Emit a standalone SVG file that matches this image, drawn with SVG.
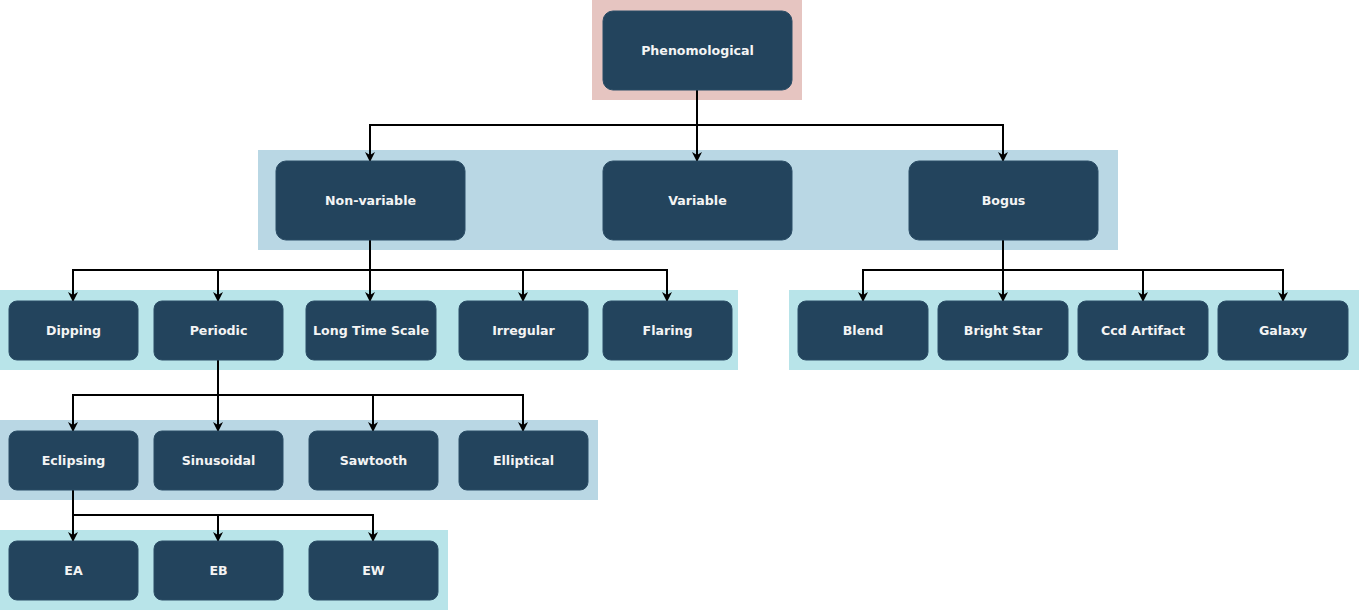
<svg xmlns="http://www.w3.org/2000/svg" width="1359" height="611" viewBox="0 0 1359 611">
  <style>
    .band-root { fill: #e6c5c1; }
    .band-a { fill: #b9d7e4; }
    .band-b { fill: #b8e4e9; }
    .node rect { fill: #23445d; stroke: #2b4d66; stroke-width: 1; }
    .node text { fill: #f4f4f4; font-family: "DejaVu Sans", Verdana, sans-serif; font-weight: bold; font-size: 12.6px; text-anchor: middle; dominant-baseline: central; }
    .edge { fill: none; stroke: #000; stroke-width: 2; marker-end: url(#arrow); }
  </style>
  <defs>
    <marker id="arrow" viewBox="0 0 10 10" refX="9" refY="5" markerWidth="11" markerHeight="10" markerUnits="userSpaceOnUse" orient="auto">
      <path d="M0,0 L10,5 L0,10 L3,5 Z" fill="#000"/>
    </marker>
  </defs>
  <rect width="1359" height="611" fill="#fff"/>

  <!-- level bands -->
  <g id="bands">
    <rect class="band-root" x="592" y="0" width="210" height="100"/>
    <rect class="band-a" x="258" y="150" width="860" height="100"/>
    <rect class="band-b" x="0" y="290" width="738" height="80"/>
    <rect class="band-b" x="789" y="290" width="570" height="80"/>
    <rect class="band-a" x="0" y="420" width="598" height="80"/>
    <rect class="band-b" x="0" y="530" width="448" height="80"/>
  </g>

  <!-- connectors -->
  <g id="connectors">
    <path class="edge" d="M697,90 V125 H370 V161"/>
    <path class="edge" d="M697,90 V161"/>
    <path class="edge" d="M697,90 V125 H1003 V161"/>

    <path class="edge" d="M370,240 V270 H73 V301"/>
    <path class="edge" d="M370,240 V270 H218 V301"/>
    <path class="edge" d="M370,240 V301"/>
    <path class="edge" d="M370,240 V270 H523 V301"/>
    <path class="edge" d="M370,240 V270 H667 V301"/>

    <path class="edge" d="M1003,240 V270 H863 V301"/>
    <path class="edge" d="M1003,240 V301"/>
    <path class="edge" d="M1003,240 V270 H1143 V301"/>
    <path class="edge" d="M1003,240 V270 H1283 V301"/>

    <path class="edge" d="M218,360 V395 H73 V431"/>
    <path class="edge" d="M218,360 V431"/>
    <path class="edge" d="M218,360 V395 H373 V431"/>
    <path class="edge" d="M218,360 V395 H523 V431"/>

    <path class="edge" d="M73,490 V541"/>
    <path class="edge" d="M73,490 V515 H218 V541"/>
    <path class="edge" d="M73,490 V515 H373 V541"/>
  </g>

  <!-- nodes -->
  <g id="phenomological" class="node"><rect x="603" y="11" width="189" height="79" rx="10"/><text x="697.5" y="50.5">Phenomological</text></g>

  <g id="non-variable" class="node"><rect x="276" y="161" width="189" height="79" rx="10"/><text x="370.5" y="200.5">Non-variable</text></g>
  <g id="variable" class="node"><rect x="603" y="161" width="189" height="79" rx="10"/><text x="697.5" y="200.5">Variable</text></g>
  <g id="bogus" class="node"><rect x="909" y="161" width="189" height="79" rx="10"/><text x="1003.5" y="200.5">Bogus</text></g>

  <g id="dipping" class="node"><rect x="9" y="301" width="129" height="59" rx="8"/><text x="73.5" y="330.5">Dipping</text></g>
  <g id="periodic" class="node"><rect x="154" y="301" width="129" height="59" rx="8"/><text x="218.5" y="330.5">Periodic</text></g>
  <g id="long-time-scale" class="node"><rect x="306" y="301" width="130" height="59" rx="8"/><text x="371" y="330.5">Long Time Scale</text></g>
  <g id="irregular" class="node"><rect x="459" y="301" width="129" height="59" rx="8"/><text x="523.5" y="330.5">Irregular</text></g>
  <g id="flaring" class="node"><rect x="603" y="301" width="129" height="59" rx="8"/><text x="667.5" y="330.5">Flaring</text></g>

  <g id="blend" class="node"><rect x="798" y="301" width="130" height="59" rx="8"/><text x="863" y="330.5">Blend</text></g>
  <g id="bright-star" class="node"><rect x="938" y="301" width="130" height="59" rx="8"/><text x="1003" y="330.5">Bright Star</text></g>
  <g id="ccd-artifact" class="node"><rect x="1078" y="301" width="130" height="59" rx="8"/><text x="1143" y="330.5">Ccd Artifact</text></g>
  <g id="galaxy" class="node"><rect x="1218" y="301" width="130" height="59" rx="8"/><text x="1283" y="330.5">Galaxy</text></g>

  <g id="eclipsing" class="node"><rect x="9" y="431" width="129" height="59" rx="8"/><text x="73.5" y="460.5">Eclipsing</text></g>
  <g id="sinusoidal" class="node"><rect x="154" y="431" width="129" height="59" rx="8"/><text x="218.5" y="460.5">Sinusoidal</text></g>
  <g id="sawtooth" class="node"><rect x="309" y="431" width="129" height="59" rx="8"/><text x="373.5" y="460.5">Sawtooth</text></g>
  <g id="elliptical" class="node"><rect x="459" y="431" width="129" height="59" rx="8"/><text x="523.5" y="460.5">Elliptical</text></g>

  <g id="ea" class="node"><rect x="9" y="541" width="129" height="59" rx="8"/><text x="73.5" y="570.5">EA</text></g>
  <g id="eb" class="node"><rect x="154" y="541" width="129" height="59" rx="8"/><text x="218.5" y="570.5">EB</text></g>
  <g id="ew" class="node"><rect x="309" y="541" width="129" height="59" rx="8"/><text x="373.5" y="570.5">EW</text></g>
</svg>
